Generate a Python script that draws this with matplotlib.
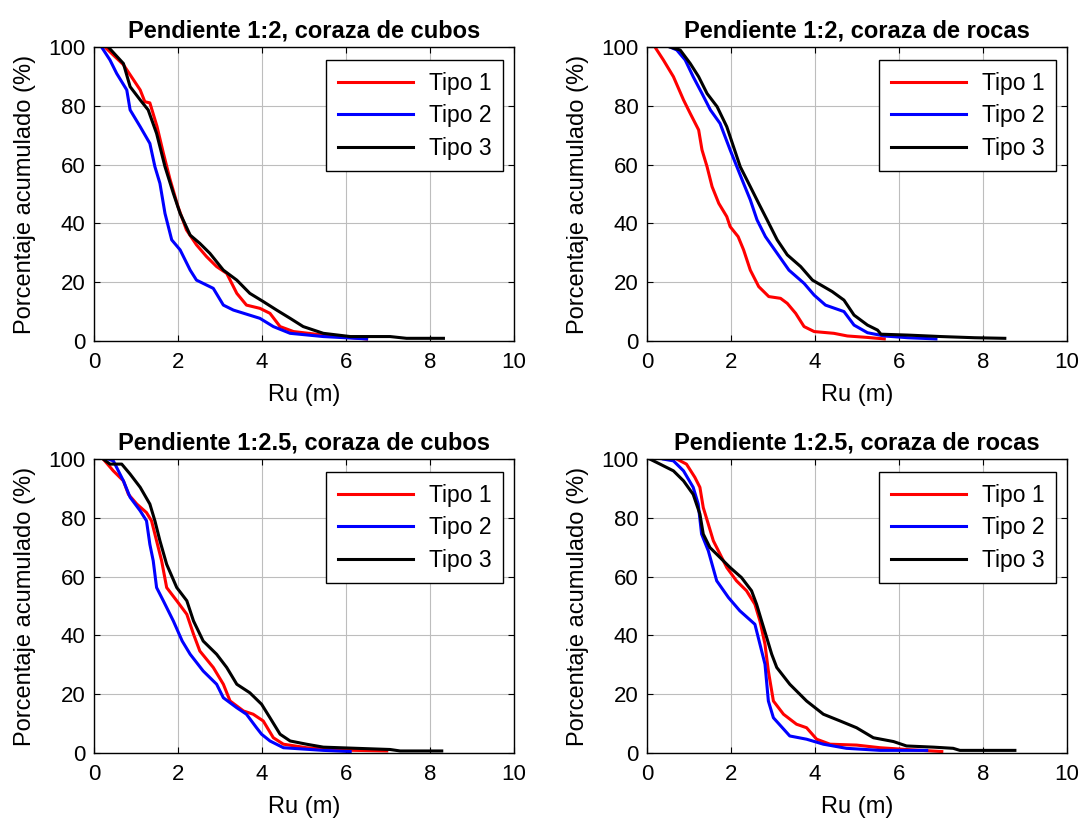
import matplotlib
matplotlib.use("Agg")
import matplotlib.pyplot as plt

plt.rcParams['font.family'] = ['Liberation Sans', 'DejaVu Sans']

series_names = ["Tipo 1", "Tipo 2", "Tipo 3"]
series_colors = ["#ff0000", "#0000ff", "#000000"]
titles = [
    "Pendiente 1:2, coraza de cubos",
    "Pendiente 1:2, coraza de rocas",
    "Pendiente 1:2.5, coraza de cubos",
    "Pendiente 1:2.5, coraza de rocas",
]
x_ticks = [0, 2, 4, 6, 8, 10]
y_ticks = [0, 20, 40, 60, 80, 100]

# Slope 1:2, cube armour
c12_t1_ru = [0.26, 0.7, 1.1, 1.21, 1.33, 1.5, 1.65, 1.81, 2.0, 2.2, 2.44, 2.68, 2.92, 3.16, 3.4, 3.63, 3.95, 4.19, 4.43, 4.75, 5.46, 6.49]
c12_t1_p = [100, 94, 85.4, 81.4, 81, 73, 64, 55, 45.7, 37.8, 32.7, 28.7, 25.3, 23, 16.2, 12.2, 11.1, 9.4, 4.9, 3.2, 2.0, 0.7]
c12_t2_ru = [0.18, 0.38, 0.54, 0.78, 0.86, 1.1, 1.33, 1.45, 1.57, 1.69, 1.85, 2.05, 2.29, 2.44, 2.84, 3.08, 3.32, 3.95, 4.27, 4.67, 5.46, 6.49]
c12_t2_p = [100, 95.6, 91, 85.4, 78.6, 72.9, 67.2, 59.3, 53.6, 43.4, 34.4, 31, 24.1, 20.7, 17.9, 12.2, 10.5, 7.7, 4.9, 2.6, 1.5, 0.7]
c12_t3_ru = [0.34, 0.7, 0.86, 1.1, 1.29, 1.49, 1.69, 1.89, 2.05, 2.29, 2.52, 2.76, 3.08, 3.4, 3.71, 4.03, 4.35, 4.67, 4.98, 5.46, 6.1, 7.05, 7.44, 8.32]
c12_t3_p = [100, 94.4, 86.5, 82, 78.6, 70.6, 59.3, 50.2, 43.4, 36, 33.2, 29.8, 24.1, 20.7, 16.2, 13.4, 10.5, 7.7, 4.9, 2.6, 1.5, 1.5, 0.9, 0.9]

# Slope 1:2, rock armour
r12_t1_ru = [0.19, 0.39, 0.63, 0.87, 1.03, 1.23, 1.31, 1.43, 1.55, 1.71, 1.9, 1.98, 2.17, 2.3, 2.46, 2.66, 2.9, 3.18, 3.34, 3.54, 3.74, 3.98, 4.45, 4.77, 5.25, 5.65]
r12_t1_p = [100, 95.6, 89.9, 82, 77.4, 71.8, 65, 59.3, 52.5, 46.8, 42.3, 38.9, 35.5, 31, 24.1, 18.5, 15.1, 14.5, 12.8, 9.4, 4.9, 3.2, 2.6, 1.7, 1.2, 0.7]
r12_t2_ru = [0.55, 0.71, 0.91, 1.1, 1.31, 1.51, 1.74, 1.98, 2.14, 2.3, 2.46, 2.62, 2.82, 3.1, 3.38, 3.74, 3.98, 4.25, 4.69, 4.93, 5.25, 5.65, 6.21, 6.88]
r12_t2_p = [100, 99, 95.6, 89.9, 84.2, 78.6, 74, 65, 59.3, 53.6, 48, 41.2, 35.5, 29.8, 24.1, 19.6, 15.6, 12.2, 10, 5.4, 2.8, 1.7, 1.1, 0.7]
r12_t3_ru = [0.55, 0.79, 1.03, 1.23, 1.43, 1.67, 1.9, 2.06, 2.22, 2.46, 2.66, 2.86, 3.1, 3.34, 3.66, 3.94, 4.41, 4.69, 4.93, 5.25, 5.49, 5.57, 6.21, 7.0, 7.8, 8.52]
r12_t3_p = [100, 99, 94.4, 89.9, 84.2, 79.7, 72.9, 66.1, 59.3, 52.5, 46.8, 41.2, 34.4, 29.3, 25.3, 20.7, 16.8, 13.9, 8.8, 5.4, 3.7, 2.3, 2.0, 1.5, 1.1, 0.9]

# Slope 1:2.5, cube armour
c25_t1_ru = [0.22, 0.46, 0.7, 0.82, 1.02, 1.25, 1.37, 1.49, 1.61, 1.73, 1.97, 2.21, 2.37, 2.52, 2.84, 3.08, 3.24, 3.56, 3.79, 4.03, 4.27, 4.51, 5.06, 5.86, 6.97]
c25_t1_p = [100, 96, 92.6, 88, 84.7, 81.8, 79, 72.2, 65.4, 56.3, 51.8, 47.2, 40.4, 34.7, 29.1, 23.4, 17.7, 14.3, 13.2, 10.9, 5.2, 3.0, 1.8, 1.0, 0.7]
c25_t2_ru = [0.34, 0.46, 0.7, 0.86, 1.1, 1.25, 1.33, 1.41, 1.49, 1.65, 1.89, 2.1, 2.29, 2.6, 2.92, 3.08, 3.4, 3.63, 3.87, 3.99, 4.19, 4.51, 5.46, 6.1]
c25_t2_p = [100, 99.4, 92.6, 87, 82.4, 79, 71, 65.4, 56.3, 51.8, 44.9, 38.1, 33.6, 27.9, 23.4, 18.8, 15.4, 13.2, 8.6, 6.4, 4.1, 1.8, 0.9, 0.5]
c25_t3_ru = [0.22, 0.38, 0.66, 0.86, 1.1, 1.33, 1.45, 1.57, 1.73, 1.97, 2.21, 2.37, 2.6, 2.92, 3.16, 3.4, 3.71, 3.99, 4.19, 4.43, 4.67, 5.06, 5.46, 6.25, 7.05, 7.29, 8.28]
c25_t3_p = [100, 98.3, 98.3, 94.9, 90.4, 84.7, 79, 72.2, 64.2, 56.3, 51.8, 44.9, 38.1, 33.6, 29.1, 23.4, 20.5, 16.6, 12, 6.4, 4.1, 3.0, 2.0, 1.6, 1.2, 0.7, 0.7]

# Slope 1:2.5, rock armour
r25_t1_ru = [0.71, 0.94, 1.14, 1.26, 1.34, 1.46, 1.58, 1.7, 1.9, 2.13, 2.37, 2.57, 2.69, 2.81, 2.89, 3.01, 3.25, 3.56, 3.8, 4.04, 4.36, 4.99, 5.55, 6.18, 7.02]
r25_t1_p = [100, 98.3, 93.8, 90.4, 83.5, 77.9, 72.2, 68.8, 63.1, 58.6, 55.2, 50.6, 44.9, 37, 27.9, 17.7, 13.2, 9.8, 8.6, 4.7, 3.0, 2.7, 1.8, 1.2, 0.5]
r25_t2_ru = [0.39, 0.63, 0.87, 1.1, 1.22, 1.3, 1.46, 1.66, 1.94, 2.21, 2.57, 2.69, 2.81, 2.89, 3.01, 3.4, 3.8, 4.2, 4.75, 5.55, 6.66]
r25_t2_p = [100, 99.4, 96, 90.4, 84.7, 74.5, 68.8, 58.6, 52.9, 48.4, 43.8, 37, 30.2, 17.7, 12, 5.8, 4.7, 3.0, 1.6, 0.9, 0.9]
r25_t3_ru = [0.07, 0.31, 0.63, 0.87, 1.1, 1.26, 1.34, 1.5, 1.74, 1.98, 2.25, 2.49, 2.61, 2.73, 2.85, 2.97, 3.09, 3.4, 3.8, 4.2, 4.6, 4.99, 5.39, 5.87, 6.18, 6.82, 7.29, 7.45, 8.76]
r25_t3_p = [100, 98.3, 96, 92.6, 88, 81.3, 74.5, 69.9, 66.5, 63.1, 59.7, 55.2, 50.6, 44.9, 39.3, 33.6, 29.1, 23.4, 17.7, 13.2, 10.9, 8.6, 5.2, 3.9, 2.4, 2.0, 1.6, 0.9, 0.9]

panels = [
    [(c12_t1_ru, c12_t1_p), (c12_t2_ru, c12_t2_p), (c12_t3_ru, c12_t3_p)],
    [(r12_t1_ru, r12_t1_p), (r12_t2_ru, r12_t2_p), (r12_t3_ru, r12_t3_p)],
    [(c25_t1_ru, c25_t1_p), (c25_t2_ru, c25_t2_p), (c25_t3_ru, c25_t3_p)],
    [(r25_t1_ru, r25_t1_p), (r25_t2_ru, r25_t2_p), (r25_t3_ru, r25_t3_p)],
]

fig = plt.figure(figsize=(10.83, 8.21), dpi=100)
lefts = [0.0868, 0.5974]
bottoms = [0.5847, 0.0828]
w, h = 0.3878, 0.358

for i, (title, data) in enumerate(zip(titles, panels)):
    row, col = divmod(i, 2)
    ax = fig.add_axes([lefts[col], bottoms[row], w, h])
    for name, color, (xs, ys) in zip(series_names, series_colors, data):
        ax.plot(xs, ys, color=color, lw=2.2, label=name)
    ax.set_xlim(0, 10)
    ax.set_ylim(0, 100)
    ax.set_xticks(x_ticks)
    ax.set_yticks(y_ticks)
    ax.grid(True, color="#bdbdbd", lw=0.8)
    ax.set_axisbelow(True)
    ax.tick_params(direction="in", top=True, right=True, length=4,
                   labelsize=16, width=0.8)
    ax.tick_params(axis="x", pad=8)
    ax.tick_params(axis="y", pad=6)
    for s in ax.spines.values():
        s.set_linewidth(1.0)
    ax.set_title(title, fontsize=17, fontweight="bold", pad=7)
    ax.set_xlabel("Ru (m)", fontsize=17, labelpad=8)
    ax.set_ylabel("Porcentaje acumulado (%)", fontsize=17, labelpad=9)
    leg = ax.legend(loc="upper right", bbox_to_anchor=(0.975, 0.955),
                    fontsize=16.5, frameon=True, fancybox=False,
                    edgecolor="black", framealpha=1, borderaxespad=0,
                    handlelength=3.3, handletextpad=0.7, labelspacing=0.42,
                    borderpad=0.5)
    leg.get_frame().set_linewidth(1.0)

fig.savefig("out.png", dpi=100)
